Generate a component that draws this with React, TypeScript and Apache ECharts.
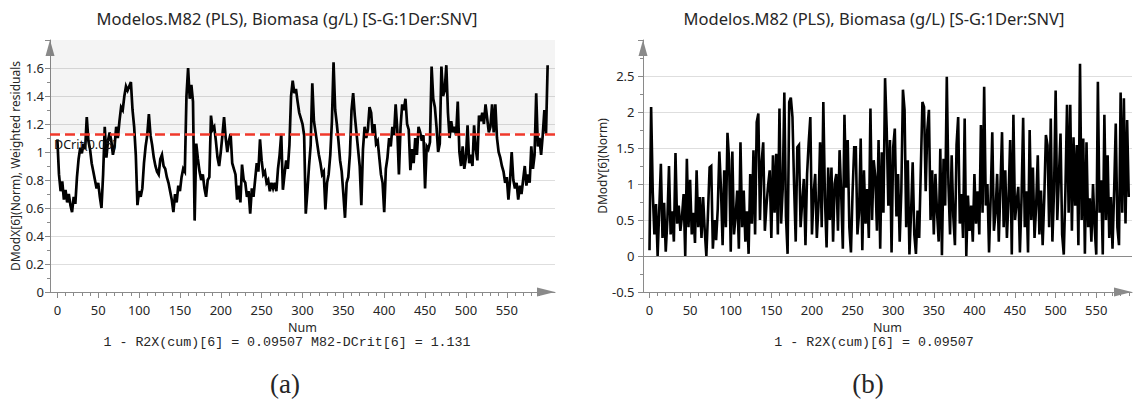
import React, { useEffect, useRef } from "react";
import * as echarts from "echarts";

const TITLE = "Modelos.M82 (PLS), Biomasa (g/L) [S-G:1Der:SNV]";
const SUB_A = "1 - R2X(cum)[6] = 0.09507 M82-DCrit[6] = 1.131";
const SUB_B = "1 - R2X(cum)[6] = 0.09507";
const Y_NAME_A = "DModX[6](Norm), Weighted residuals";
const Y_NAME_B = "DModY[6](Norm)";
const X_NAME = "Num";
const DCRIT = 1.131;
const DCRIT_LABEL = "DCrit(0.05)";
const STEP = 2; // observation spacing of the value arrays (Num = index * STEP)

const X_MAJOR = [0, 50, 100, 150, 200, 250, 300, 350, 400, 450, 500, 550];
const X_MINOR = [
  10, 20, 30, 40, 60, 70, 80, 90, 110, 120, 130, 140, 160, 170, 180, 190, 210, 220, 230, 240,
  260, 270, 280, 290, 310, 320, 330, 340, 360, 370, 380, 390, 410, 420, 430, 440, 460, 470, 480, 490,
  510, 520, 530, 540, 560, 570, 580, 590,
];

// DModX[6](Norm), Num = 0, 2, 4, ... 600
const dmodx = [
  1.09, 0.84, 0.72, 0.79, 0.66, 0.73, 0.64, 0.70, 0.62, 0.57, 0.68, 0.63, 0.82, 0.95, 1.03, 0.99, 1.06, 1.02, 1.25, 1.08,
  1.02, 0.92, 0.86, 0.80, 0.74, 0.78, 0.68, 0.60, 0.84, 1.18, 0.96, 1.08, 1.14, 1.08, 0.98, 1.04, 1.18, 1.10, 1.22, 1.32,
  1.30, 1.40, 1.47, 1.44, 1.47, 1.50, 1.30, 1.18, 0.98, 0.62, 0.72, 0.68, 0.74, 0.92, 1.04, 1.12, 1.27, 1.12, 1.05, 0.96,
  0.90, 0.86, 0.84, 0.95, 0.98, 0.90, 0.88, 0.82, 0.78, 0.72, 0.66, 0.57, 0.70, 0.64, 0.76, 0.72, 0.82, 0.88, 0.86, 1.40,
  1.60, 1.38, 1.48, 1.36, 0.51, 1.06, 0.95, 0.86, 0.80, 0.84, 0.74, 0.68, 0.80, 0.82, 1.26, 1.16, 1.18, 1.08, 0.96, 0.90,
  1.00, 1.12, 1.25, 1.10, 1.00, 1.08, 1.13, 0.92, 0.88, 0.84, 0.66, 0.76, 0.64, 0.91, 0.80, 0.78, 0.68, 0.72, 0.56, 0.74,
  0.68, 0.80, 0.92, 0.86, 1.09, 0.94, 0.84, 0.86, 0.78, 0.80, 0.72, 0.78, 0.74, 0.78, 0.72, 0.88, 0.98, 1.13, 0.73, 0.84,
  0.94, 0.88, 1.05, 1.40, 1.51, 1.42, 1.45, 1.36, 1.28, 1.24, 1.20, 1.12, 0.56, 0.72, 0.90, 1.05, 1.49, 1.22, 1.14, 1.06,
  0.98, 0.92, 0.84, 0.86, 0.59, 0.78, 0.84, 0.98, 1.22, 1.64, 1.30, 1.20, 1.08, 0.94, 0.86, 0.70, 0.53, 0.78, 0.82, 0.98,
  1.30, 1.42, 1.26, 1.14, 1.02, 0.90, 0.62, 1.02, 1.18, 1.10, 1.16, 1.32, 1.28, 1.12, 1.20, 1.06, 1.08, 0.96, 0.84, 0.78,
  0.57, 0.88, 0.96, 1.10, 1.04, 1.18, 1.12, 1.34, 1.16, 0.84, 1.18, 1.34, 1.30, 1.38, 1.20, 1.16, 0.87, 1.02, 0.92, 1.10,
  0.98, 1.18, 1.14, 1.08, 1.12, 0.74, 1.04, 1.02, 1.07, 1.61, 1.38, 1.32, 1.18, 1.00, 1.06, 1.61, 1.40, 1.44, 1.62, 1.28,
  1.10, 1.22, 1.14, 1.18, 1.12, 1.36, 1.00, 0.90, 1.04, 0.88, 0.96, 1.19, 0.92, 0.98, 0.90, 1.19, 1.02, 0.94, 1.26, 1.22,
  1.28, 1.20, 1.34, 1.24, 1.14, 1.18, 1.34, 1.14, 1.34, 1.10, 1.00, 0.96, 0.90, 0.86, 0.78, 0.82, 0.66, 0.80, 1.00, 0.80,
  0.74, 0.78, 0.66, 0.76, 0.70, 0.80, 0.90, 0.76, 0.84, 0.78, 1.04, 0.88, 0.98, 1.42, 1.04, 1.10, 0.98, 1.12, 1.30, 1.13,
  1.62,
];

// DModY[6](Norm), Num = 0, 2, 4, ... 590
const dmody = [
  0.08, 2.07, 0.89, 0.30, 0.72, 0.00, 0.65, 1.28, 0.25, 0.74, 0.06, 0.50, 1.25, 0.30, 0.62, 0.20, 1.43, 0.45, 0.70, 0.35,
  0.55, 0.86, 0.00, 1.35, 0.40, 1.06, 0.30, 0.60, 0.18, 1.19, 0.40, 0.82, 0.25, 0.82, 0.35, 0.00, 0.60, 1.23, 1.25, 0.10,
  0.50, 0.22, 0.65, 1.45, 0.93, 0.15, 1.19, 0.40, 1.71, 1.33, 0.06, 1.45, 0.30, 0.55, 0.91, 0.10, 1.58, 0.40, 0.91, 0.20,
  0.62, 0.03, 1.14, 0.45, 1.47, 0.30, 1.86, 1.98, 0.50, 1.30, 1.58, 0.35, 0.70, 0.98, 1.19, 0.25, 1.40, 0.60, 1.42, 0.30,
  2.05, 0.45, 0.93, 2.27, 0.55, 0.03, 2.14, 2.20, 1.93, 0.98, 0.20, 1.51, 1.54, 0.40, 0.75, 1.07, 0.15, 1.14, 1.58, 1.93,
  0.30, 0.86, 1.14, 0.25, 0.70, 1.58, 0.40, 2.14, 0.79, 0.12, 1.23, 0.50, 1.23, 0.20, 1.01, 1.14, 0.35, 1.47, 0.86, 0.10,
  1.96, 0.95, 1.61, 0.40, 0.05, 0.89, 1.51, 1.51, 0.30, 0.60, 1.63, 0.08, 1.19, 0.45, 0.93, 0.25, 2.05, 0.50, 1.33, 1.10,
  0.35, 1.61, 0.10, 1.44, 0.60, 2.47, 1.77, 0.70, 1.61, 0.05, 1.51, 1.77, 0.55, 1.14, 0.20, 0.90, 2.31, 2.03, 0.40, 1.33,
  0.02, 0.60, 1.30, 0.30, 0.03, 0.63, 0.25, 1.20, 2.14, 2.07, 0.90, 1.75, 2.03, 0.50, 1.19, 0.30, 1.14, 0.60, 0.20, 1.49,
  0.01, 1.35, 0.70, 2.49, 1.00, 0.30, 1.40, 0.55, 0.15, 1.54, 1.93, 0.45, 0.86, 0.25, 1.91, 0.00, 0.84, 0.35, 0.70, 0.20,
  1.14, 0.45, 0.90, 0.30, 1.82, 0.60, 2.35, 0.70, 1.00, 0.05, 0.80, 1.72, 0.35, 0.60, 1.14, 0.20, 0.95, 1.72, 0.40, 1.19,
  0.25, 0.80, 1.61, 0.02, 1.96, 0.50, 0.75, 0.96, 0.05, 0.80, 1.92, 0.40, 0.90, 0.05, 1.75, 0.50, 1.23, 0.25, 0.70, 1.40,
  0.30, 0.91, 0.15, 0.80, 1.68, 1.54, 0.40, 1.91, 0.20, 0.90, 2.30, 0.50, 1.10, 1.70, 0.30, 0.02, 0.90, 2.10, 0.60, 2.10,
  0.35, 1.65, 0.70, 1.54, 0.15, 2.67, 0.50, 1.63, 0.03, 1.58, 0.40, 0.80, 0.20, 1.00, 0.40, 0.02, 2.42, 0.60, 1.05, 0.02,
  1.96, 0.50, 1.40, 0.25, 0.82, 0.10, 0.90, 1.84, 0.40, 0.15, 2.27, 0.60, 2.19, 0.45, 1.89, 0.82,
];

const AXIS = "#8a8a8a";
const TXT = "#262626";
const GRIDLINE = "#dedede";
const SANS = "'Noto Sans', 'Open Sans', sans-serif";
const MONO = "'Liberation Mono', 'DejaVu Sans Mono', monospace";
const SERIF = "'Liberation Serif', 'DejaVu Serif', serif";

function mainX(gridIndex: number, min: number, max: number) {
  return {
    gridIndex,
    type: "value",
    position: "bottom",
    min,
    max,
    name: X_NAME,
    nameLocation: "middle",
    nameGap: 28,
    nameTextStyle: { color: TXT, fontSize: 12.5, fontFamily: SANS },
    axisLine: {
      show: true,
      onZero: false,
      symbol: ["none", "triangle"],
      symbolSize: [9, 18],
      symbolOffset: [0, -9],
      lineStyle: { color: AXIS, width: 1 },
    },
    axisTick: { show: true, customValues: X_MAJOR, length: 6, lineStyle: { color: AXIS } },
    axisLabel: {
      show: true,
      customValues: X_MAJOR,
      margin: 11,
      color: TXT,
      fontSize: 13,
      fontFamily: SANS,
    },
    splitLine: { show: false },
    minorTick: { show: false },
  };
}

function minorX(gridIndex: number, min: number, max: number) {
  return {
    gridIndex,
    type: "value",
    position: "bottom",
    min,
    max,
    axisLine: { show: false, onZero: false },
    axisTick: { show: true, customValues: X_MINOR, length: 4, lineStyle: { color: AXIS } },
    axisLabel: { show: false },
    splitLine: { show: false },
  };
}

function yAxisCfg(
  gridIndex: number,
  min: number,
  max: number,
  interval: number,
  name: string,
  nameGap: number,
  margin: number
) {
  return {
    gridIndex,
    type: "value",
    min,
    max,
    interval,
    name,
    nameLocation: "middle",
    nameGap,
    nameTextStyle: { color: TXT, fontSize: 12, fontFamily: SANS },
    axisLine: {
      show: true,
      onZero: false,
      symbol: ["none", "triangle"],
      symbolSize: [9, 16],
      symbolOffset: [0, -8],
      lineStyle: { color: AXIS, width: 1 },
    },
    axisTick: { show: true, length: 5, lineStyle: { color: AXIS } },
    minorTick: { show: true, splitNumber: 2, length: 3, lineStyle: { color: AXIS } },
    axisLabel: {
      color: TXT,
      fontSize: 13,
      fontFamily: SANS,
      margin,
      showMaxLabel: false,
    },
    splitLine: { show: true, showMaxLine: false, lineStyle: { color: GRIDLINE, width: 1 } },
  };
}

function text(str: string, x: number, y: number, size: number, family: string) {
  return {
    type: "text",
    x,
    y,
    silent: true,
    style: {
      text: str,
      fill: TXT,
      fontSize: size,
      fontFamily: family,
      textAlign: "center",
      textVerticalAlign: "middle",
    },
  };
}

export default function App() {
  const ref = useRef<HTMLDivElement>(null);

  useEffect(() => {
    if (!ref.current) return;
    const chart = echarts.init(ref.current, undefined, { renderer: "svg" });

    const dataA = dmodx.map((v, i) => [i * STEP, v]);
    const dataB = dmody.map((v, i) => [i * STEP, v]);

    chart.setOption({
      animation: false,
      backgroundColor: "#ffffff",
      grid: [
        { left: 50, top: 40, width: 505, height: 252, containLabel: false },
        { left: 643, top: 40, width: 489, height: 252, containLabel: false },
      ],
      xAxis: [mainX(0, -9, 609), minorX(0, -9, 609), mainX(1, -8, 594), minorX(1, -8, 594)],
      yAxis: [
        yAxisCfg(0, 0, 1.8, 0.2, Y_NAME_A, 26, 6),
        yAxisCfg(1, -0.5, 3, 0.5, Y_NAME_B, 31, 8.5),
      ],
      graphic: [
        text(TITLE, 287, 18, 16.5, SANS),
        text(TITLE, 874, 18, 16.5, SANS),
        text(SUB_A, 287, 342, 13.3, MONO),
        text(SUB_B, 874, 342, 13.3, MONO),
        text("(a)", 285, 384, 27, SERIF),
        text("(b)", 868, 384, 27, SERIF),
      ],
      series: [
        {
          type: "line",
          xAxisIndex: 0,
          yAxisIndex: 0,
          data: [],
          z: 1,
          silent: true,
          markArea: {
            silent: true,
            itemStyle: { color: "rgba(0,0,0,0.045)" },
            data: [[{ yAxis: DCRIT }, { yAxis: 1.8 }]],
          },
          markLine: {
            silent: true,
            symbol: "none",
            lineStyle: { color: "#f0392b", width: 2.5, type: [10, 5] },
            label: {
              show: true,
              position: "insideStartBottom",
              formatter: DCRIT_LABEL,
              color: "#111",
              fontSize: 12.5,
              fontFamily: SANS,
              distance: 4,
            },
            data: [{ yAxis: DCRIT }],
          },
        },
        {
          type: "line",
          xAxisIndex: 0,
          yAxisIndex: 0,
          data: dataA,
          z: 3,
          showSymbol: false,
          symbol: "none",
          lineStyle: { color: "#000", width: 2.7, join: "miter" },
        },
        {
          type: "line",
          xAxisIndex: 2,
          yAxisIndex: 1,
          data: [],
          z: 1,
          silent: true,
          markLine: {
            silent: true,
            symbol: "none",
            label: { show: false },
            lineStyle: { color: "#8a8a8a", width: 1, type: "solid" },
            data: [{ yAxis: 0 }],
          },
        },
        {
          type: "line",
          xAxisIndex: 2,
          yAxisIndex: 1,
          data: dataB,
          z: 3,
          showSymbol: false,
          symbol: "none",
          lineStyle: { color: "#000", width: 2.6, join: "miter" },
        },
      ],
    });

    return () => chart.dispose();
  }, []);

  return (
    <div
      ref={ref}
      style={{ position: "absolute", left: 0, top: 0, width: 1133, height: 400, background: "#fff" }}
    />
  );
}
